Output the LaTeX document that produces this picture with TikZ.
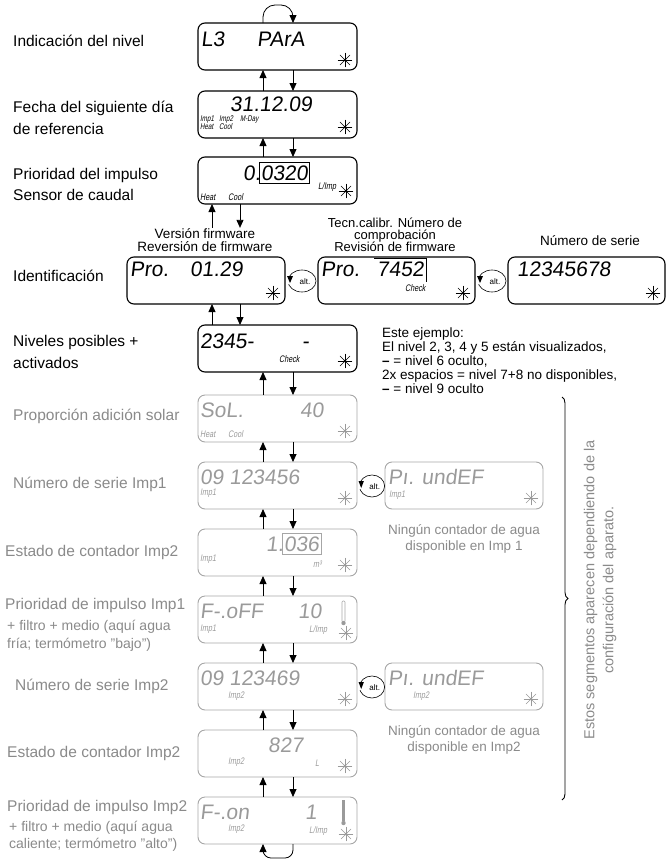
\documentclass[tikz,border=0pt]{standalone}
\usepackage{fontspec}
\setmainfont{Liberation Sans}
\newfontfamily\lcdfont[FakeSlant=0.12]{Liberation Sans}
\newfontfamily\tinyfont[FakeSlant=0.18,FakeStretch=0.75]{Liberation Sans}
\usetikzlibrary{arrows.meta,decorations.pathreplacing,calc}
\definecolor{lgray}{HTML}{8A8A8A}
\definecolor{bgray}{HTML}{A6A6A6}
\definecolor{dgray}{HTML}{9A9A9A}
\tikzset{
  lcdbox/.style={draw, line width=1.1pt, rounded corners=7pt, minimum width=159pt, minimum height=47pt, inner sep=0pt, outer sep=0pt, anchor=north west},
  graybox/.style={lcdbox, draw=bgray, line width=0.9pt},
  lbl/.style={font=\fontsize{15.5}{18}\selectfont, anchor=base west, inner sep=0pt},
  glbl/.style={lbl, text=lgray},
  sublbl/.style={font=\fontsize{14}{16}\selectfont, anchor=base west, inner sep=0pt, text=lgray},
  note/.style={font=\fontsize{13.5}{14}\selectfont, anchor=base west, inner sep=0pt},
  hdr/.style={font=\fontsize{13.5}{14}\selectfont, anchor=base, inner sep=0pt},
  lcd/.style={font=\lcdfont\fontsize{21}{21}\selectfont, anchor=base west, inner sep=0pt},
  glcd/.style={lcd, text=dgray},
  tiny/.style={font=\tinyfont\fontsize{9.5}{9.5}\selectfont, anchor=base west, inner sep=0pt},
  tinyb/.style={font=\tinyfont\fontsize{8.3}{8.3}\selectfont, anchor=base west, inner sep=0pt},
  gtiny/.style={tiny, text=dgray},
  arr/.style={-{Triangle[width=7pt,length=8pt]}, line width=0.8pt},
  lstar/.pic={\foreach \a in {0,45,...,315}{\draw[line width=0.65pt, line cap=round] (0,0) -- (\a:6.8);} \fill (0,0) circle (1.4pt);},
  altsym/.pic={\draw[line width=0.6pt] (0,0) ellipse (14 and 11); \fill[white] (-15.5,-5) rectangle (-11,3); \fill (-15,-5) -- (-9,-5) -- (-12,2) -- cycle; \node[font=\fontsize{8}{8}\selectfont, inner sep=0pt] (-t) at (3,1) {alt.};},
  frame/.style={line width=0.6pt}
}
\begin{document}
\begin{tikzpicture}[x=1pt,y=-1pt]
\path[use as bounding box] (0,0) rectangle (666,862);
\coordinate (cu) at (263,0);
\coordinate (cd) at (293,0);
\coordinate (cl) at (212,0);
\coordinate (cr) at (240,0);

% ---------- boxes ----------
\node[lcdbox] (b1) at (198,23) {};
\node[lcdbox] (b2) at (198,91) {};
\node[lcdbox] (b3) at (198,157) {};
\node[lcdbox, minimum width=158pt] (ida) at (127,257) {};
\node[lcdbox, minimum width=157pt] (idb) at (318,257) {};
\node[lcdbox, minimum width=157pt] (idc) at (508,257) {};
\node[lcdbox] (b5) at (198,325) {};
\node[graybox] (b6) at (198,395) {};
\node[graybox] (b7) at (198,462) {};
\node[graybox, minimum width=158pt] (r7) at (385,462) {};
\node[graybox] (b8) at (198,529) {};
\node[graybox] (b9) at (198,596) {};
\node[graybox] (b10) at (198,663) {};
\node[graybox, minimum width=158pt] (r10) at (385,663) {};
\node[graybox] (b11) at (198,730) {};
\node[graybox] (b12) at (198,797) {};

% ---------- left labels ----------
\node[lbl] (l1) at (13,46) {Indicación del nivel};
\node[lbl] (l2a) at (13,112) {Fecha del siguiente día};
\node[lbl] (l2b) at (13,134) {de referencia};
\node[lbl] (l3a) at (13,179) {Prioridad del impulso};
\node[lbl] (l3b) at (13,200) {Sensor de caudal};
\node[lbl] (l4) at (13,281) {Identificación};
\node[lbl] (l5a) at (13,346) {Niveles posibles +};
\node[lbl] (l5b) at (13,368) {activados};
\node[glbl] (l6) at (13,420) {Proporción adición solar};
\node[glbl] (l7) at (13,488) {Número de serie Imp1};
\node[glbl] (l8) at (5,556) {Estado de contador Imp2};
\node[glbl] (l9a) at (5,609) {Prioridad de impulso Imp1};
\node[sublbl] (l9b) at (7,630) {+ filtro + medio (aquí agua};
\node[sublbl] (l9c) at (7,648) {fría; termómetro "bajo")};
\node[glbl] (l10) at (15,690) {Número de serie Imp2};
\node[glbl] (l11) at (7,757) {Estado de contador Imp2};
\node[glbl] (l12a) at (7,811) {Prioridad de impulso Imp2};
\node[sublbl] (l12b) at (9,831) {+ filtro + medio (aquí agua};
\node[sublbl] (l12c) at (9,848) {caliente; termómetro "alto")};

% ---------- headers of identification row ----------
\node[hdr] (hv1) at (205,238) {Versión firmware};
\node[hdr] (hv2) at (205,251) {Reversión de firmware};
\node[hdr, font=\fontsize{13}{13}\selectfont] (ht1) at (395,227) {Tecn.calibr. Número de};
\node[hdr, font=\fontsize{13}{13}\selectfont] (ht2) at (395,239) {comprobación};
\node[hdr, font=\fontsize{13}{13}\selectfont] (ht3) at (395,251) {Revisión de firmware};
\node[hdr] (hs) at (590,245) {Número de serie};

% ---------- notes ----------
\node[note] (n1) at (382,337) {Este ejemplo:};
\node[note] (n2) at (382,351) {El nivel 2, 3, 4 y 5 están visualizados,};
\node[note] (n3) at (382,365) {\textbf{–} = nivel 6 oculto,};
\node[note] (n4) at (382,379) {2x espacios = nivel 7+8 no disponibles,};
\node[note] (n5) at (382,393) {\textbf{–} = nivel 9 oculto};
\node[note, anchor=base, text=lgray] (c1a) at (464,534) {Ningún contador de agua};
\node[note, anchor=base, text=lgray] (c1b) at (464,550) {disponible en Imp 1};
\node[note, anchor=base, text=lgray] (c2a) at (464,735) {Ningún contador de agua};
\node[note, anchor=base, text=lgray] (c2b) at (464,751) {disponible en Imp2};

% ---------- brace ----------
\draw[line width=0.9pt, decorate, decoration={brace, amplitude=6pt}] (562,397) -- (562,800);
\node[font=\fontsize{14.5}{19}\selectfont, text=lgray, rotate=90, align=center, inner sep=0pt] (vt) at (600,590) {Estos segmentos aparecen dependiendo de la\\configuración del aparato.};

% ---------- LCD contents ----------
% b1
\node[lcd] (t1a) at (201,46) {L3};
\node[lcd] (t1b) at (257,46) {PArA};
\pic at (345,60) {lstar};
% b2
\node[lcd] (t2) at (230,111) {31.12.09};
\node[tinyb] (t2a) at (200,121) {Imp1};
\node[tinyb] (t2b) at (200,129.5) {Heat};
\node[tinyb] (t2c) at (219,121) {Imp2};
\node[tinyb] (t2d) at (219,129.5) {Cool};
\node[tinyb] (t2e) at (240,121) {M-Day};
\pic at (345,127) {lstar};
% b3
\node[lcd] (t3a) at (243,180) {0.};
\node[lcd, anchor=base west] (t3b) at (t3a.base east) {0320};
\draw[frame] ($(t3b.north west)+(-1.5,-2.5)$) rectangle ($(t3b.south east)+(1.5,2.5)$);
\node[tiny] (t3c) at (318,189) {L/Imp};
\node[tiny] (t3d) at (200,200) {Heat};
\node[tiny] (t3e) at (228,200) {Cool};
\pic at (346,191) {lstar};
% ida
\node[lcd] (ta1) at (130,276) {Pro.};
\node[lcd] (ta2) at (190,276) {01.29};
\pic at (273,293) {lstar};
% idb
\node[lcd] (tb1) at (321,276) {Pro.};
\node[lcd] (tb2) at (377,276) {7452};
\draw[frame] ($(tb2.north west)+(-3,-3)$) -- ($(tb2.north east)+(2,-3)$) -- ($(tb2.south east)+(2,6)$);
\node[tiny] (tb3) at (405,291) {Check};
\pic at (463,293) {lstar};
% idc
\node[lcd] (tc1) at (517,276) {12345678};
\pic at (653,293) {lstar};
% alt symbols
\pic (alt1) at (302,281) {altsym};
\pic (alt2) at (492,281) {altsym};
% b5
\node[lcd] (t5a) at (200,348) {2345-};
\node[lcd] (t5b) at (302,348) {-};
\node[tiny] (t5c) at (279,362) {Check};
\pic at (345,361) {lstar};
% b6
\begin{scope}[dgray]
\node[glcd] (t6a) at (200,417) {SoL.};
\node[glcd] (t6b) at (300,417) {40};
\node[gtiny] (t6c) at (200,437) {Heat};
\node[gtiny] (t6d) at (228,437) {Cool};
\pic at (345,431) {lstar};
% b7
\node[glcd] (t7) at (200,484) {09 123456};
\node[gtiny] (t7a) at (200,495) {Imp1};
\pic at (345,498) {lstar};
\node[glcd] (r7a) at (388,484) {Pı. undEF};
\node[gtiny] (r7b) at (389,497) {Imp1};
\pic at (531,498) {lstar};
% b8
\node[glcd] (t8a) at (266,551) {1.};
\node[glcd, anchor=base west] (t8b) at (t8a.base east) {036};
\draw[frame, bgray] ($(t8b.north west)+(-1.5,-2.5)$) rectangle ($(t8b.south east)+(1.5,2.5)$);
\node[gtiny] (t8c) at (200,561) {Imp1};
\node[gtiny] (t8d) at (313,567) {m³};
\pic at (345,565) {lstar};
% b9
\node[glcd] (t9a) at (200,618) {F-.oFF};
\node[glcd] (t9b) at (298,618) {10};
\draw[bgray, line width=0.6pt, rounded corners=1pt] (342,621) -- (342,601) -- (345,601) -- (345,621);
\fill[dgray] (343.5,623) circle (2.2pt);
\node[gtiny] (t9c) at (200,631) {Imp1};
\node[gtiny] (t9d) at (309,632) {L/Imp};
\pic at (346,633) {lstar};
% b10
\node[glcd] (t10) at (200,685) {09 123469};
\node[gtiny] (t10a) at (228,698) {Imp2};
\pic at (345,699) {lstar};
\node[glcd] (r10a) at (388,685) {Pı. undEF};
\node[gtiny] (r10b) at (413,698) {Imp2};
\pic at (531,699) {lstar};
% b11
\node[glcd] (t11) at (268,752) {827};
\node[gtiny] (t11a) at (228,764) {Imp2};
\node[gtiny] (t11b) at (315,766) {L};
\pic at (345,766) {lstar};
% b12
\node[glcd] (t12a) at (200,819) {F-.on};
\node[glcd] (t12b) at (305,819) {1};
\draw[dgray, line width=2.4pt] (343.5,800) -- (343.5,821);
\fill[dgray] (343.5,823) circle (2.2pt);
\node[gtiny] (t12c) at (228,831) {Imp2};
\node[gtiny] (t12d) at (309,833) {L/Imp};
\pic at (346,834) {lstar};
\end{scope}
\pic[xscale=0.9] (alt3) at (372,486) {altsym};
\pic[xscale=0.9] (alt4) at (372,687) {altsym};

% ---------- arrows ----------
\draw[arr, rounded corners=12pt] (b1.north -| cu) -- ++(0,-18) -| (b1.north -| cd);
\draw[arr] (b2.north -| cu) -- (b1.south -| cu);
\draw[arr] (b1.south -| cd) -- (b2.north -| cd);
\draw[arr] (b3.north -| cu) -- (b2.south -| cu);
\draw[arr] (b2.south -| cd) -- (b3.north -| cd);
\draw[arr] (hv1.north -| cl) -- (b3.south -| cl);
\draw[arr] (b3.south -| cr) -- (hv1.north -| cr);
\draw[arr] (b5.north -| cl) -- (ida.south -| cl);
\draw[arr] (ida.south -| cr) -- (b5.north -| cr);
\foreach \u/\l in {b5/b6, b6/b7, b7/b8, b8/b9, b9/b10, b10/b11, b11/b12}{
  \draw[arr] (\l.north -| cu) -- (\u.south -| cu);
  \draw[arr] (\u.south -| cd) -- (\l.north -| cd);
}
\draw[arr, rounded corners=8pt] (b12.south -| cd) -- ++(0,14) -| (b12.south -| cu);
\end{tikzpicture}
\end{document}
